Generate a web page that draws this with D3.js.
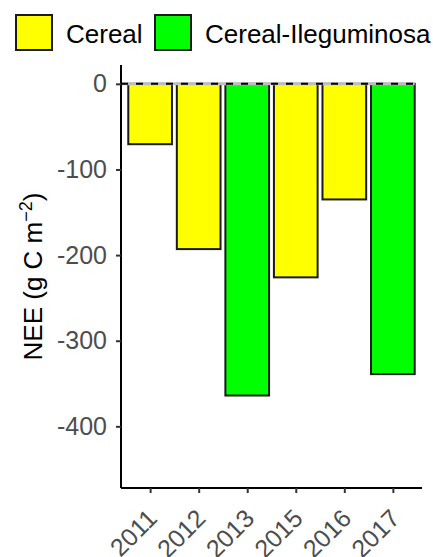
<!DOCTYPE html>
<html>
<head>
<meta charset="utf-8">
<script src="https://cdn.jsdelivr.net/npm/d3@7"></script>
<style>
  body { margin: 0; background: #fff; }
  svg { font-family: "Liberation Sans", Arial, sans-serif; }
</style>
</head>
<body>
<div id="chart"></div>
<script>
// data
const years = ["2011", "2012", "2013", "2015", "2016", "2017"]
const nee = [-70.5, -193, -364, -226, -135, -339]
const system = ["Cereal", "Cereal", "Cereal-Ileguminosa", "Cereal", "Cereal", "Cereal-Ileguminosa"]
const groups = ["Cereal", "Cereal-Ileguminosa"]
const groupColors = ["#ffff00", "#00ff00"]
const yTicks = [0, -100, -200, -300, -400]

const W = 433, H = 557
const margin = {top: 65, right: 11, bottom: 69, left: 121}
const width = W - margin.left - margin.right
const height = H - margin.top - margin.bottom

const svg = d3.select("#chart").append("svg").attr("width", W).attr("height", H)
const g = svg.append("g").attr("transform", `translate(${margin.left},${margin.top})`)

const x = d3.scalePoint().domain(years).range([0, width]).padding(0.6)
const step = x.step()
const y = d3.scaleLinear().domain([-472, 22]).range([height, 0])
const color = d3.scaleOrdinal().domain(groups).range(groupColors)

const data = years.map((yr, i) => ({year: yr, value: nee[i], system: system[i]}))

// bars
g.selectAll(".bar")
  .data(data)
  .enter().append("rect")
    .attr("class", "bar")
    .attr("x", d => x(d.year) - step * 0.45)
    .attr("width", step * 0.9)
    .attr("y", y(0))
    .attr("height", d => y(d.value) - y(0))
    .attr("fill", d => color(d.system))
    .attr("stroke", "#1a1a1a")
    .attr("stroke-width", 2)

// zero reference line
const lastRight = x(years[years.length - 1]) + step * 0.45
g.append("line")
  .attr("x1", 0).attr("x2", lastRight)
  .attr("y1", y(0)).attr("y2", y(0))
  .attr("stroke", "#bdbdbd").attr("stroke-width", 3)
g.append("line")
  .attr("x1", 0).attr("x2", lastRight)
  .attr("y1", y(0)).attr("y2", y(0))
  .attr("stroke", "#000").attr("stroke-width", 2)
  .attr("stroke-dasharray", "7,8")

// y axis
const yAxis = g.append("g")
  .call(d3.axisLeft(y).tickValues(yTicks).tickSize(5).tickPadding(9).tickFormat(d3.format("d")))
yAxis.select(".domain").attr("stroke", "#000").attr("stroke-width", 2).attr("d", `M0,0V${height}`)
yAxis.selectAll(".tick line").attr("stroke", "#333").attr("stroke-width", 2)
yAxis.selectAll(".tick text").attr("fill", "#4d4d4d").style("font-size", "25px")
  .text(d => d === 0 ? "0" : "-" + Math.abs(d))

// x axis
const xAxis = g.append("g")
  .attr("transform", `translate(0,${height})`)
  .call(d3.axisBottom(x).tickSize(5).tickPadding(4))
xAxis.select(".domain").attr("stroke", "#000").attr("stroke-width", 2).attr("d", `M0,0H${width}`)
xAxis.selectAll(".tick line").attr("stroke", "#333").attr("stroke-width", 2)
xAxis.selectAll(".tick text")
  .attr("fill", "#4d4d4d").style("font-size", "25px")
  .attr("text-anchor", "end")
  .attr("dy", null).attr("y", 0)
  .attr("transform", "translate(8,32) rotate(-45)")

// y title
const title = svg.append("text")
  .attr("transform", `translate(42,${margin.top + height / 2}) rotate(-90)`)
  .attr("text-anchor", "middle")
  .style("font-size", "26px")
  .attr("fill", "#000")
title.append("tspan").text("NEE (g C m")
title.append("tspan").text("\u22122").attr("dy", -10).style("font-size", "18px")
title.append("tspan").text(")").attr("dy", 10)

// legend
const legend = svg.append("g")
const items = [{x: 16, label: groups[0]}, {x: 155, label: groups[1]}]
items.forEach((it, i) => {
  legend.append("rect")
    .attr("x", it.x).attr("y", 15).attr("width", 36).attr("height", 35)
    .attr("fill", groupColors[i]).attr("stroke", "#1a1a1a").attr("stroke-width", 2)
  legend.append("text")
    .attr("x", it.x + 50).attr("y", 43)
    .style("font-size", "26px").attr("fill", "#000")
    .text(it.label)
})
</script>
</body>
</html>
